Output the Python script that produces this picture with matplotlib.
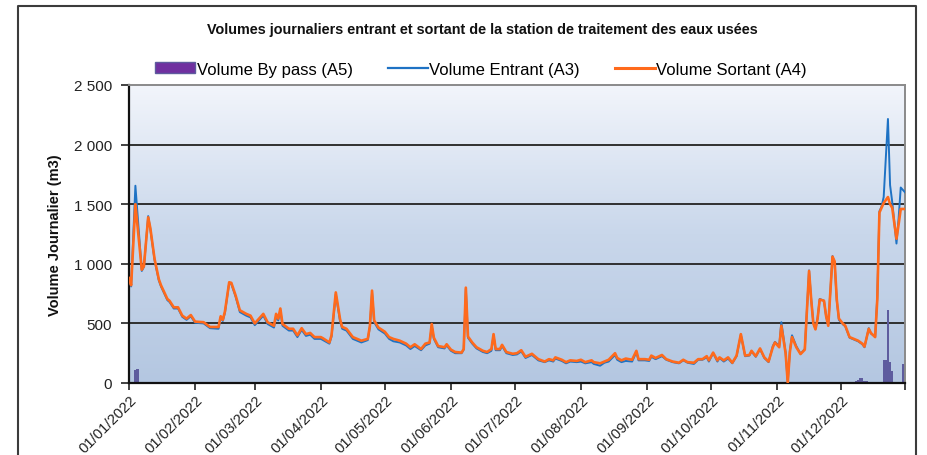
import numpy as np
import matplotlib
matplotlib.use("Agg")
import matplotlib.pyplot as plt
import matplotlib.dates as mdates
from matplotlib.colors import LinearSegmentedColormap
from matplotlib.lines import Line2D
from matplotlib.patches import Patch
from matplotlib.ticker import FuncFormatter

plt.rcParams['font.family'] = ['Liberation Sans', 'DejaVu Sans']

# ── Données (jour de l'année depuis le 01/01/2022, volumes en m3) ─────────────
jours = [
    0, 1, 3, 6, 7, 9, 10, 12, 14, 15, 18, 19, 21, 23, 25, 27, 29, 31, 35, 38,
    42, 43, 44, 45, 47, 48, 50, 52, 55, 57, 59, 61, 63, 65, 68, 69, 70, 71, 72, 75,
    77, 79, 81, 83, 85, 87, 90, 91, 94, 95, 97, 99, 100, 102, 105, 107, 109, 112, 113, 114,
    115, 117, 120, 122, 124, 127, 130, 132, 134, 137, 139, 141, 142, 143, 145, 148, 149, 151, 153, 156,
    157, 158, 159, 161, 163, 166, 168, 170, 171, 172, 174, 175, 177, 180, 182, 184, 186, 189, 192, 195,
    197, 199, 200, 203, 205, 207, 210, 212, 214, 217, 218, 221, 223, 225, 228, 229, 231, 233, 236, 238,
    239, 242, 244, 245, 247, 250, 252, 255, 258, 260, 262, 265, 267, 269, 271, 272, 274, 276, 277, 279,
    281, 283, 285, 287, 289, 291, 292, 294, 296, 298, 300, 302, 303, 305, 306, 308, 309, 310, 311, 313,
    315, 317, 319, 320, 321, 322, 323, 324, 326, 327, 328, 330, 331, 332, 333, 335, 336, 338, 340, 342,
    344, 345, 347, 348, 350, 351, 352, 353, 354, 356, 357, 358, 360, 361, 362, 364,
]

volume_sortant = [
    880, 820, 1500, 950, 980, 1390, 1300, 1040, 870, 820, 705, 690, 635, 635, 565, 540, 570, 515, 510, 470,
    470, 560, 530, 600, 845, 840, 735, 610, 580, 565, 500, 540, 580, 510, 480, 580, 540, 625, 495, 455,
    455, 400, 460, 410, 420, 385, 385, 375, 340, 400, 760, 535, 470, 455, 385, 370, 355, 370, 480, 775,
    525, 465, 430, 385, 370, 355, 330, 300, 325, 285, 330, 340, 495, 380, 310, 300, 325, 280, 260, 255,
    285, 800, 390, 340, 300, 270, 260, 285, 410, 285, 285, 320, 260, 245, 250, 275, 220, 245, 200, 180,
    200, 190, 215, 195, 175, 190, 185, 195, 175, 190, 175, 165, 180, 195, 250, 210, 190, 205, 195, 270,
    200, 200, 195, 230, 210, 235, 200, 180, 170, 195, 175, 170, 200, 200, 225, 190, 255, 190, 215, 190,
    215, 170, 230, 410, 230, 235, 270, 225, 290, 215, 180, 300, 340, 300, 480, 250, 5, 260, 385, 300,
    243, 280, 940, 700, 500, 450, 540, 700, 690, 560, 480, 1060, 1020, 700, 540, 495, 480, 385, 370, 355,
    330, 305, 455, 420, 385, 700, 1430, 1470, 1510, 1560, 1500, 1470, 1210, 1330, 1460, 1460,
]

volume_entrant = [
    870, 810, 1655, 940, 975, 1400, 1290, 1030, 860, 810, 695, 680, 625, 625, 555, 530, 560, 505, 500, 460,
    455, 550, 520, 590, 840, 830, 725, 595, 565, 550, 485, 525, 565, 495, 465, 560, 525, 610, 480, 440,
    440, 385, 445, 395, 405, 370, 370, 360, 330, 390, 745, 520, 455, 440, 370, 355, 340, 360, 470, 760,
    510, 450, 415, 370, 350, 340, 315, 285, 310, 275, 315, 330, 480, 370, 300, 290, 315, 270, 250, 250,
    280, 790, 380, 330, 290, 260, 250, 270, 400, 275, 275, 310, 250, 235, 240, 265, 210, 235, 190, 175,
    190, 180, 205, 185, 165, 180, 175, 180, 165, 175, 160, 145, 170, 180, 235, 195, 175, 185, 180, 260,
    190, 190, 185, 220, 200, 225, 195, 175, 165, 190, 170, 160, 195, 195, 215, 180, 250, 180, 210, 180,
    205, 165, 225, 405, 225, 230, 265, 220, 285, 210, 175, 310, 345, 310, 510, 255, 5, 270, 400, 310,
    245, 285, 945, 700, 505, 455, 545, 705, 690, 560, 485, 1065, 1000, 690, 530, 490, 475, 380, 365, 350,
    325, 300, 460, 415, 390, 720, 1440, 1480, 1560, 2215, 1660, 1520, 1170, 1380, 1640, 1600,
]

jours_bypass = [3, 4, 341, 342, 343, 344, 345, 346, 354, 355, 356, 357, 358, 363, 364]
volume_bypass = [105, 120, 15, 25, 40, 40, 20, 20, 190, 190, 615, 175, 100, 160, 160]

titre = "Volumes journaliers entrant et sortant de la station de traitement des eaux usées"
labels = ["Volume By pass (A5)", "Volume Entrant (A3)", "Volume Sortant (A4)"]

# ── Dates ─────────────────────────────────────────────────────────────────────
debut = np.datetime64('2022-01-01')
dates = debut + np.array(jours, dtype='timedelta64[D]')
dates_bypass = debut + np.array(jours_bypass, dtype='timedelta64[D]')

# ── Figure ────────────────────────────────────────────────────────────────────
W, H = 927, 456
fig = plt.figure(figsize=(W / 100, H / 100), dpi=100)
pos = [129 / W, 1 - 384 / H, 776 / W, 298 / H]

# fond dégradé
bg = fig.add_axes(pos, zorder=0)
cmap = LinearSegmentedColormap.from_list('fond', ['#b4c7e1', '#c9d7eb', '#f2f5fb'])
bg.imshow(np.linspace(0, 1, 256).reshape(-1, 1), cmap=cmap, origin='lower',
          aspect='auto', extent=[0, 1, 0, 1])
bg.set_axis_off()

ax = fig.add_axes(pos, zorder=1)
ax.set_facecolor('none')

ax.bar(dates_bypass, volume_bypass, width=1.0, color='#5e5c9e', zorder=2)
ax.plot(dates, volume_entrant, color='#1e72c4', lw=1.4, zorder=3)
ax.plot(dates, volume_sortant, color='#ff6a1c', lw=1.9, zorder=4)

ax.set_ylim(0, 2500)
ax.set_xlim(debut, np.datetime64('2022-12-31'))
ax.set_yticks([0, 500, 1000, 1500, 2000, 2500])
ax.yaxis.set_major_formatter(FuncFormatter(lambda v, p: f"{int(v):,}".replace(",", " ")))
for y in [500, 1000, 1500, 2000]:
    ax.axhline(y, color='#303030', lw=1.4, zorder=1)

ax.xaxis.set_major_locator(mdates.MonthLocator())
ax.xaxis.set_major_formatter(mdates.DateFormatter('%d/%m/%Y'))
ax.set_xticks([np.datetime64('2022-12-31')], minor=True)
ax.tick_params(axis='x', which='both', direction='out', length=5, width=1.2, colors='#222222',
               labelsize=10.6, pad=2)
ax.tick_params(axis='y', direction='out', length=6, width=1.2, colors='#222222',
               labelsize=11, pad=6)
for lab in ax.get_xticklabels():
    lab.set_rotation(45)
    lab.set_ha('right')
    lab.set_rotation_mode('anchor')

ax.spines['left'].set_color('#111111')
ax.spines['bottom'].set_color('#111111')
ax.spines['left'].set_linewidth(1.6)
ax.spines['bottom'].set_linewidth(1.6)
ax.spines['top'].set_color('#8a8a8a')
ax.spines['right'].set_color('#8a8a8a')
ax.spines['top'].set_linewidth(1.4)
ax.spines['right'].set_linewidth(1.4)

fig.text(0.059, 1 - 235 / H, "Volume Journalier (m3)", rotation=90, ha='center', va='center',
         fontsize=10.5, fontweight='bold', color='#111111')
fig.text(482 / W, 1 - 30 / H, titre, ha='center', va='center', fontsize=10.4,
         fontweight='bold', color='#111111')

handles = [
    Patch(facecolor='#7030a0', edgecolor='#5e5c9e'),
    Line2D([], [], color='#1e72c4', lw=1.6),
    Line2D([], [], color='#ff6a1c', lw=2.2),
]
fig.legend(handles, labels, loc='center', bbox_to_anchor=(481 / W, 1 - 70 / H), ncol=3,
           frameon=False, fontsize=12, handlelength=2.4, handleheight=0.6,
           handletextpad=0.1, columnspacing=2.1)

# cadre extérieur
x0, x1, y1 = 18 / W, 916 / W, 1 - 7 / H
fig.add_artist(Line2D([x0, x0, x1, x1], [0, y1, y1, 0], transform=fig.transFigure,
                      color='#3c3c3c', lw=1.5))

fig.savefig('out.png', dpi=100)
